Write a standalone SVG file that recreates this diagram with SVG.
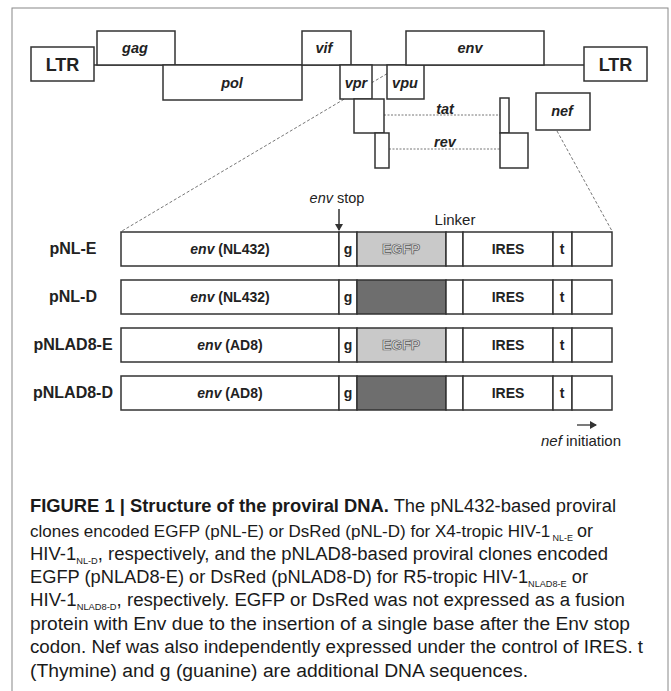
<svg xmlns="http://www.w3.org/2000/svg" width="671" height="691" viewBox="0 0 671 691">
<defs>
<marker id="ah" markerWidth="8" markerHeight="8" refX="6" refY="4" orient="auto" markerUnits="userSpaceOnUse">
<path d="M0,0 L7,4 L0,8 Z" fill="#333"/>
</marker>
</defs>
<style>
.box{fill:#fff;stroke:#333;stroke-width:1.5}
.lbl{font-family:"Liberation Sans",Arial,sans-serif;font-weight:bold;fill:#222;text-anchor:middle}
.gi{font-family:"Liberation Sans",Arial,sans-serif;font-weight:bold;font-style:italic;fill:#222;text-anchor:middle;font-size:14.5px}
.row{font-family:"Liberation Sans",Arial,sans-serif;font-weight:bold;fill:#222;text-anchor:middle;font-size:14px}
.rl{font-size:16px}
.eg{fill:#e2e2e2;stroke:#555;stroke-width:0.7}
.cap{font-family:"Liberation Sans",Arial,sans-serif;fill:#1a1a1a;font-size:18px}
.sb{font-size:9px;baseline-shift:-4px}
.sub{font-family:"Liberation Sans",Arial,sans-serif;fill:#1a1a1a;font-size:9px}
.dot{stroke:#777;stroke-width:1;stroke-dasharray:2 1.5;fill:none}
.dash{stroke:#777;stroke-width:1;stroke-dasharray:3 2;fill:none}
.egfp{fill:#c9c9c9;stroke:#333;stroke-width:1.5}
.dsred{fill:#6e6e6e;stroke:#333;stroke-width:1.5}
</style>
<rect x="12" y="8" width="656" height="690" fill="#fff" stroke="#888" stroke-width="1"/>

<g id="connectors">
<line x1="94" y1="65" x2="584" y2="65" stroke="#333" stroke-width="1.5"/>
<line class="dot" x1="384" y1="115" x2="500" y2="115"/>
<line class="dot" x1="389" y1="149" x2="500" y2="149"/>
<line class="dash" x1="400" y1="66" x2="122" y2="231"/>
<line class="dash" x1="557" y1="131" x2="612" y2="231"/>
<line x1="339" y1="209" x2="339" y2="230" stroke="#333" stroke-width="1.5" marker-end="url(#ah)"/>
<line x1="577" y1="425" x2="596" y2="425" stroke="#333" stroke-width="1.3" marker-end="url(#ah)"/>
</g>

<g id="ltr-left"><rect class="box" x="31" y="47" width="63" height="34"/><text class="lbl" x="62.5" y="71" font-size="18">LTR</text></g>
<g id="gag"><rect class="box" x="97" y="31" width="78" height="34"/><text class="gi" x="135" y="53">gag</text></g>
<g id="pol"><rect class="box" x="163" y="65" width="139" height="35"/><text class="gi" x="232" y="88">pol</text></g>
<g id="vif"><rect class="box" x="302" y="31" width="49" height="34"/><text class="gi" x="324" y="53">vif</text></g>
<g id="vpr"><rect class="box" x="340" y="65" width="32" height="34"/><text class="gi" x="356" y="88">vpr</text></g>
<g id="vpu"><rect class="box" x="387" y="65" width="37" height="34"/><text class="gi" x="405" y="88">vpu</text></g>
<g id="env"><rect class="box" x="406" y="31" width="138" height="34"/><text class="gi" x="470" y="53">env</text></g>
<g id="ltr-right"><rect class="box" x="584" y="47" width="63" height="34"/><text class="lbl" x="615.5" y="71" font-size="18">LTR</text></g>
<g id="tat"><rect class="box" x="354" y="99" width="30" height="34"/><rect class="box" x="500" y="98" width="9" height="35"/><text class="gi" x="445" y="114">tat</text></g>
<g id="rev"><rect class="box" x="375" y="133" width="14" height="35"/><rect class="box" x="500" y="133" width="28" height="35"/><text class="gi" x="445" y="147">rev</text></g>
<g id="nef"><rect class="box" x="536" y="93" width="54" height="37"/><text class="gi" x="562" y="116">nef</text></g>

<g id="labels-top">
<text x="337" y="203" font-family="Liberation Sans, Arial, sans-serif" font-size="14.5" fill="#222" text-anchor="middle"><tspan font-style="italic">env</tspan> stop</text>
<text x="455" y="225" font-family="Liberation Sans, Arial, sans-serif" font-size="15" fill="#222" text-anchor="middle">Linker</text>
</g>

<g id="row-pNL-E">
<text class="row rl" x="73" y="254">pNL-E</text>
<rect class="box" x="121" y="232" width="218" height="34"/>
<rect class="box" x="339" y="232" width="18" height="34"/>
<rect class="egfp" x="357" y="232" width="89" height="34"/>
<rect class="box" x="446" y="232" width="17" height="34"/>
<rect class="box" x="463" y="232" width="90" height="34"/>
<rect class="box" x="553" y="232" width="19" height="34"/>
<rect class="box" x="572" y="232" width="40" height="34"/>
<text class="row" x="230" y="254"><tspan font-style="italic">env</tspan> (NL432)</text>
<text class="row" x="348" y="254">g</text>
<text class="row eg" x="401" y="254">EGFP</text>
<text class="row" x="508" y="254">IRES</text>
<text class="row" x="562" y="254">t</text>
</g>

<g id="row-pNL-D">
<text class="row rl" x="73" y="302">pNL-D</text>
<rect class="box" x="121" y="280" width="218" height="34"/>
<rect class="box" x="339" y="280" width="18" height="34"/>
<rect class="dsred" x="357" y="280" width="89" height="34"/>
<rect class="box" x="446" y="280" width="17" height="34"/>
<rect class="box" x="463" y="280" width="90" height="34"/>
<rect class="box" x="553" y="280" width="19" height="34"/>
<rect class="box" x="572" y="280" width="40" height="34"/>
<text class="row" x="230" y="302"><tspan font-style="italic">env</tspan> (NL432)</text>
<text class="row" x="348" y="302">g</text>
<text class="row" x="508" y="302">IRES</text>
<text class="row" x="562" y="302">t</text>
</g>

<g id="row-pNLAD8-E">
<text class="row rl" x="73" y="350">pNLAD8-E</text>
<rect class="box" x="121" y="328" width="218" height="34"/>
<rect class="box" x="339" y="328" width="18" height="34"/>
<rect class="egfp" x="357" y="328" width="89" height="34"/>
<rect class="box" x="446" y="328" width="17" height="34"/>
<rect class="box" x="463" y="328" width="90" height="34"/>
<rect class="box" x="553" y="328" width="19" height="34"/>
<rect class="box" x="572" y="328" width="40" height="34"/>
<text class="row" x="230" y="350"><tspan font-style="italic">env</tspan> (AD8)</text>
<text class="row" x="348" y="350">g</text>
<text class="row eg" x="401" y="350">EGFP</text>
<text class="row" x="508" y="350">IRES</text>
<text class="row" x="562" y="350">t</text>
</g>

<g id="row-pNLAD8-D">
<text class="row rl" x="73" y="398">pNLAD8-D</text>
<rect class="box" x="121" y="376" width="218" height="34"/>
<rect class="box" x="339" y="376" width="18" height="34"/>
<rect class="dsred" x="357" y="376" width="89" height="34"/>
<rect class="box" x="446" y="376" width="17" height="34"/>
<rect class="box" x="463" y="376" width="90" height="34"/>
<rect class="box" x="553" y="376" width="19" height="34"/>
<rect class="box" x="572" y="376" width="40" height="34"/>
<text class="row" x="230" y="398"><tspan font-style="italic">env</tspan> (AD8)</text>
<text class="row" x="348" y="398">g</text>
<text class="row" x="508" y="398">IRES</text>
<text class="row" x="562" y="398">t</text>
</g>

<g id="nef-initiation">
<text x="581" y="446" font-family="Liberation Sans, Arial, sans-serif" font-size="15" fill="#222" text-anchor="middle"><tspan font-style="italic">nef</tspan> initiation</text>
</g>

<g id="caption">
<text class="cap" x="30" y="512" textLength="586" lengthAdjust="spacingAndGlyphs"><tspan font-weight="bold">FIGURE 1 | Structure of the proviral DNA.</tspan> The pNL432-based proviral</text>
<text class="cap" x="30" y="537" style="font-size:17px">clones encoded EGFP (pNL-E) or DsRed (pNL-D) for X4-tropic HIV-1</text>
<text class="sub" x="552.5" y="541">NL-E</text>
<text class="cap" x="577" y="537">or</text>
<text class="cap" x="30" y="560" textLength="578" lengthAdjust="spacingAndGlyphs">HIV-1<tspan class="sb">NL-D</tspan>, respectively, and the pNLAD8-based proviral clones encoded</text>
<text class="cap" x="30" y="583" textLength="558" lengthAdjust="spacingAndGlyphs">EGFP (pNLAD8-E) or DsRed (pNLAD8-D) for R5-tropic HIV-1<tspan class="sb">NLAD8-E</tspan> or</text>
<text class="cap" x="30" y="606" textLength="595" lengthAdjust="spacingAndGlyphs">HIV-1<tspan class="sb">NLAD8-D</tspan>, respectively. EGFP or DsRed was not expressed as a fusion</text>
<text class="cap" x="30" y="630" textLength="600" lengthAdjust="spacingAndGlyphs">protein with Env due to the insertion of a single base after the Env stop</text>
<text class="cap" x="30" y="653" textLength="613" lengthAdjust="spacingAndGlyphs">codon. Nef was also independently expressed under the control of IRES. t</text>
<text class="cap" x="30" y="677" textLength="498" lengthAdjust="spacingAndGlyphs">(Thymine) and g (guanine) are additional DNA sequences.</text>
</g>
</svg>
